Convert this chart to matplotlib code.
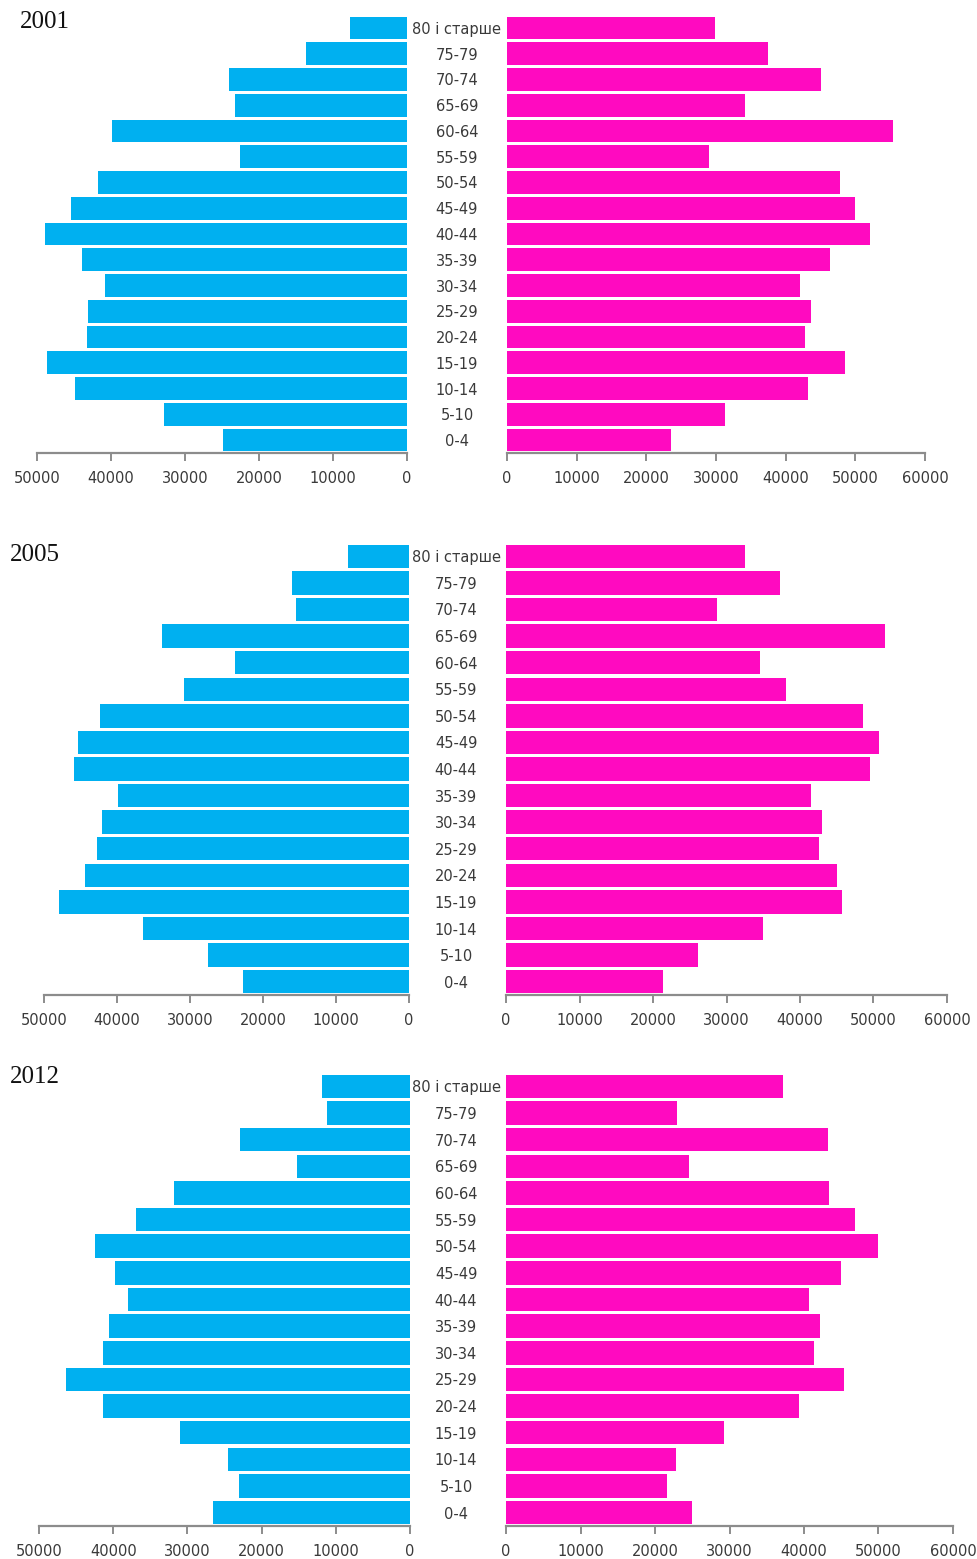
import matplotlib
matplotlib.use("Agg")
import matplotlib.pyplot as plt

# age groups, bottom to top
ages = ["0-4", "5-10", "10-14", "15-19", "20-24", "25-29", "30-34", "35-39",
        "40-44", "45-49", "50-54", "55-59", "60-64", "65-69", "70-74", "75-79",
        "80 і старше"]

years = ["2001", "2005", "2012"]

# values read top (80+) to bottom (0-4), reversed below
men_2001 = [7700, 13700, 24000, 23200, 39900, 22600, 41800, 45400, 48900,
            43900, 40800, 43100, 43300, 48600, 44900, 32900, 24900]
women_2001 = [29900, 37500, 45100, 34200, 55400, 29000, 47800, 50000, 52100,
              46400, 42000, 43600, 42800, 48500, 43200, 31300, 23500]

men_2005 = [8400, 16000, 15500, 33900, 23900, 30800, 42300, 45400, 45900,
            39900, 42100, 42700, 44400, 48000, 36500, 27600, 22800]
women_2005 = [32500, 37300, 28700, 51500, 34600, 38100, 48600, 50700, 49500,
              41500, 43000, 42600, 45000, 45700, 34900, 26100, 21300]

men_2012 = [11800, 11200, 22900, 15200, 31800, 36900, 42500, 39700, 38000,
            40600, 41400, 46400, 41400, 31000, 24500, 23100, 26600]
women_2012 = [37200, 23000, 43200, 24600, 43400, 46800, 49900, 44900, 40700,
              42200, 41400, 45400, 39300, 29300, 22800, 21600, 24900]

men = [m[::-1] for m in (men_2001, men_2005, men_2012)]
women = [w[::-1] for w in (women_2001, women_2005, women_2012)]

W, H = 977, 1559
fig = plt.figure(figsize=(W / 100, H / 100), dpi=100)

# pixel boxes: (left x0, left x1, right x0, right x1, top y, axis y)
boxes = [(37, 407, 507, 925, 15, 453),
         (44, 409, 506, 947, 543, 995),
         (39, 410, 506, 953, 1073, 1526)]
year_pos = [(20, 22), (10, 555), (10, 1077)]

blue = "#00b0f0"
pink = "#ff0ac0"
gray = "#8c8c8c"
txt = "#3a3a3a"


def style(ax):
    for s in ["top", "left", "right"]:
        ax.spines[s].set_visible(False)
    ax.spines["bottom"].set_color(gray)
    ax.spines["bottom"].set_linewidth(1.6)
    ax.tick_params(axis="x", colors=gray, length=6, width=1.4, direction="out",
                   labelcolor=txt, labelsize=10.5, pad=7)
    for lab in ax.get_xticklabels():
        lab.set_family("DejaVu Sans")


for i in range(3):
    lx0, lx1, rx0, rx1, yt, yb = boxes[i]
    y = list(range(len(ages)))

    axl = fig.add_axes([lx0 / W, 1 - yb / H, (lx1 - lx0) / W, (yb - yt) / H])
    axl.barh(y, men[i], height=0.88, color=blue, edgecolor="none")
    axl.set_xlim(50000, 0)
    axl.set_ylim(-0.5, len(ages) - 0.5)
    axl.set_xticks([50000, 40000, 30000, 20000, 10000, 0])
    axl.set_yticks([])
    style(axl)

    axr = fig.add_axes([rx0 / W, 1 - yb / H, (rx1 - rx0) / W, (yb - yt) / H])
    axr.barh(y, women[i], height=0.88, color=pink, edgecolor="none")
    axr.set_xlim(0, 60000)
    axr.set_ylim(-0.5, len(ages) - 0.5)
    axr.set_xticks(range(0, 60001, 10000))
    axr.set_yticks(y)
    axr.set_yticklabels(ages, ha="center", fontsize=10.5, color=txt,
                        family="DejaVu Sans")
    axr.tick_params(axis="y", length=0, pad=36)
    style(axr)

    fig.text(year_pos[i][0] / W, 1 - year_pos[i][1] / H, years[i],
             family="Liberation Serif", fontsize=18, va="center", ha="left",
             color="#111111")

fig.savefig("out.png", dpi=100, facecolor="white")
